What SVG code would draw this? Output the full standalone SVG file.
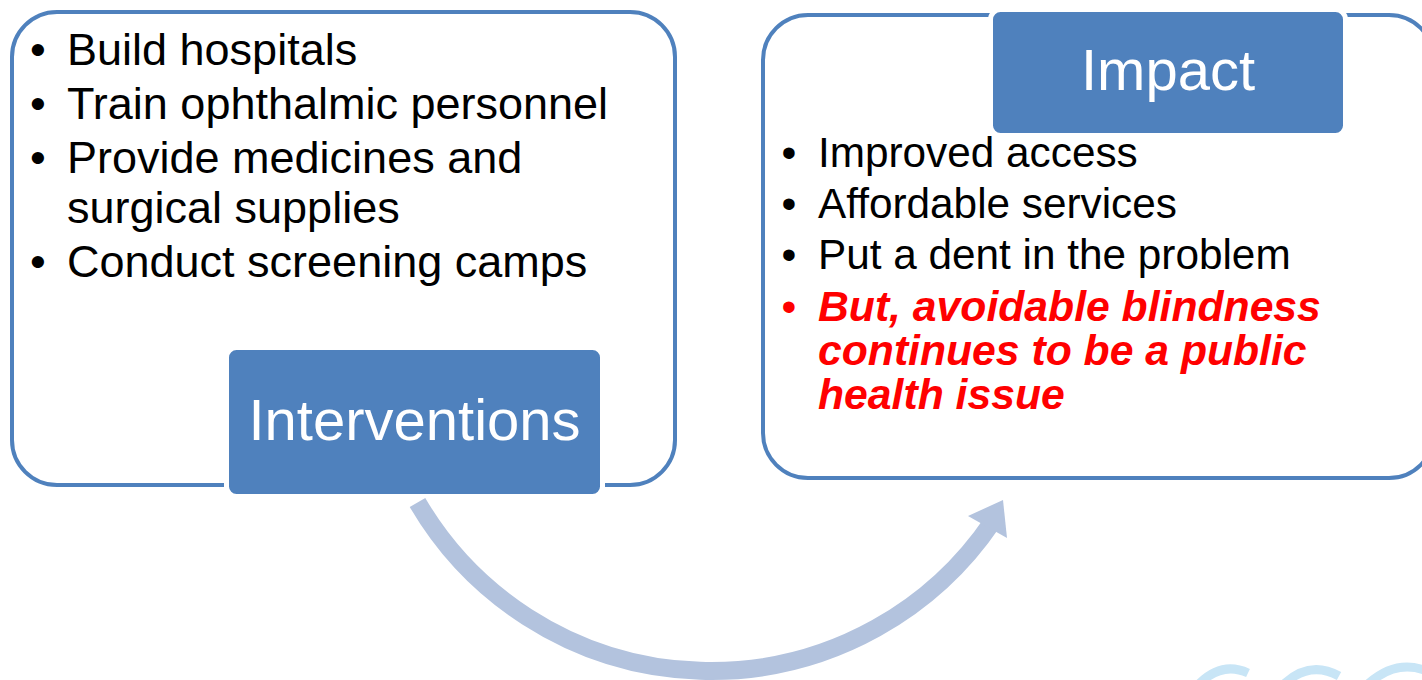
<svg xmlns="http://www.w3.org/2000/svg" width="1422" height="680" viewBox="0 0 1422 680">
<style>
.frame{fill:#FFFFFF;stroke:#4F81BD;stroke-width:4}
.tab{fill:#4F81BD;stroke:#FFFFFF;stroke-width:5}
.title{font-family:"Liberation Sans",Arial,sans-serif;font-size:58px;fill:#FFFFFF;text-anchor:middle}
.item{font-family:"Liberation Sans",Arial,sans-serif;fill:#000000}
.bul{text-anchor:middle}
.red{fill:#FF0000}
.bi{font-weight:bold;font-style:italic;font-size:42.7px}
.arrow{fill:none;stroke:#B3C3DE;stroke-width:18;stroke-linecap:butt}
.mark{fill:none;stroke:#C8E5F6;stroke-width:9}
</style>
<rect width="1422" height="680" fill="#FFFFFF"/>
<g id="watermark">
<path class="mark" d="M1199,684 Q1222,661 1248,673"/>
<path class="mark" d="M1284,684 Q1310,660 1339,676"/>
<path class="mark" d="M1368,684 Q1395,660 1424,670"/>
</g>
<g id="interventions">
<rect class="frame" x="12" y="12" width="663" height="473" rx="45" ry="45"/>
<g class="item" font-size="45">
<text class="bul" x="38" y="65">•</text><text x="67" y="65">Build hospitals</text>
<text class="bul" x="38" y="119">•</text><text x="67" y="119">Train ophthalmic personnel</text>
<text class="bul" x="38" y="173">•</text><text x="67" y="173">Provide medicines and</text>
<text x="67" y="223">surgical supplies</text>
<text class="bul" x="38" y="277">•</text><text x="67" y="277">Conduct screening camps</text>
</g>
<rect class="tab" x="226.5" y="347.5" width="376" height="149" rx="10" ry="10"/>
<text class="title" x="414.5" y="440">Interventions</text>
</g>
<g id="impact">
<rect class="frame" x="763" y="15" width="671" height="463" rx="45" ry="45"/>
<rect class="tab" x="990.5" y="9.5" width="355" height="126" rx="10" ry="10"/>
<text class="title" x="1168" y="90">Impact</text>
<g class="item" font-size="42.3">
<text class="bul" x="789" y="167">•</text><text x="818" y="167">Improved access</text>
<text class="bul" x="789" y="218">•</text><text x="818" y="218">Affordable services</text>
<text class="bul" x="789" y="269">•</text><text x="818" y="269">Put a dent in the problem</text>
<text class="bul red" x="789" y="321">•</text>
<text class="red bi" x="818" y="321">But, avoidable blindness</text>
<text class="red bi" x="818" y="365">continues to be a public</text>
<text class="red bi" x="818" y="409">health issue</text>
</g>
</g>
<g id="connectors">
<path class="arrow" d="M417.5,502.5 A340,340 0 0 0 993,521"/>
<polygon points="1003,500 968,516 1007,538" fill="#B3C3DE"/>
</g>
</svg>
